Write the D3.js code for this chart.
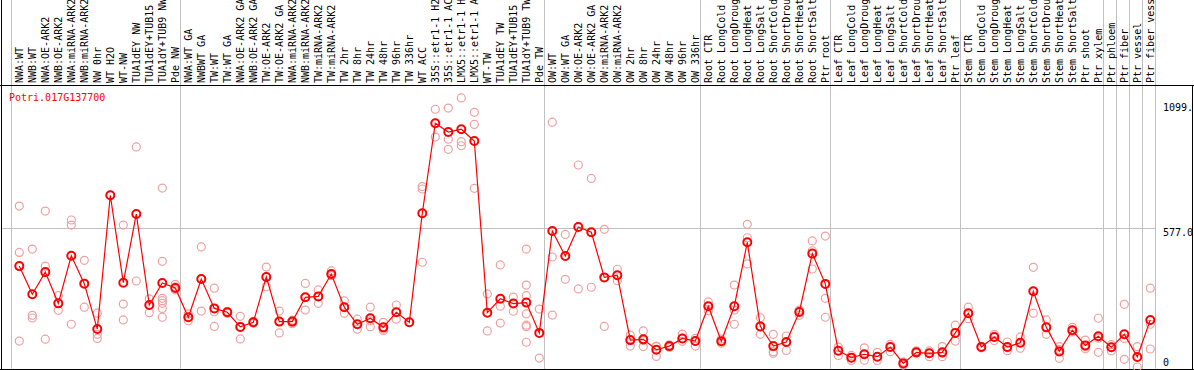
<!DOCTYPE html>
<html lang="en">
<head>
<meta charset="UTF-8">
<title>Potri.017G137700 expression</title>
<style>
  body { margin: 0; background: #fff; }
  text { font-family: "DejaVu Sans Mono", monospace; font-size: 10px; }
</style>
</head>
<body>
<div id="viz-wrapper"></div>
<script src="https://cdn.jsdelivr.net/npm/d3@7/dist/d3.min.js"></script>
<script type="text/javascript">
// sample names, left to right
var categories = [
  "NWA:WT", "NWB:WT", "NWA:OE-ARK2", "NWB:OE-ARK2", "NWA:miRNA-ARK2", "NWB:miRNA-ARK2",
  "NW 0hr", "WT H2O", "WT-NW", "TUA1dEY NW", "TUA1dEY+TUB15", "TUA1dY+TUB9 NW", "Pde NW",
  "NWA:WT GA", "NWBWT GA", "TW:WT", "TW:WT GA", "NWA:OE-ARK2 GA", "NWB:OE-ARK2 GA",
  "TW:OE-ARK2", "TW:OE-ARK2 GA", "NWA:miRNA-ARK2", "NWB:miRNA-ARK2", "TW:miRNA-ARK2",
  "TW:miRNA-ARK2", "TW 2hr", "TW 8hr", "TW 24hr", "TW 48hr", "TW 96hr", "TW 336hr",
  "WT ACC", "35S::etr1-1 H2O", "35S::etr1-1 ACC", "LMX5::etr1-1 H2O", "LMX5::etr1-1 ACC",
  "WT-TW", "TUA1dEY TW", "TUA1dEY+TUB15", "TUA1dY+TUB9 TW", "Pde TW",
  "OW:WT", "OW:WT GA", "OW:OE-ARK2", "OW:OE-ARK2 GA", "OW:miRNA-ARK2", "OW:miRNA-ARK2",
  "OW 2hr", "OW 8hr", "OW 24hr", "OW 48hr", "OW 96hr", "OW 336hr",
  "Root CTR", "Root LongCold", "Root LongDrought", "Root LongHeat", "Root LongSalt",
  "Root ShortCold", "Root ShortDrought", "Root ShortHeat", "Root ShortSalt", "Ptr root",
  "Leaf CTR", "Leaf LongCold", "Leaf LongDrought", "Leaf LongHeat", "Leaf LongSalt",
  "Leaf ShortCold", "Leaf ShortDrought", "Leaf ShortHeat", "Leaf ShortSalt", "Ptr leaf",
  "Stem CTR", "Stem LongCold", "Stem LongDrought", "Stem LongHeat", "Stem LongSalt",
  "Stem ShortCold", "Stem ShortDrought", "Stem ShortHeat", "Stem ShortSalt", "Ptr shoot", "Ptr xylem",
  "Ptr phloem", "Ptr fiber", "Ptr vessel", "Ptr fiber vessel"
];

// index where each experiment block starts (gray separators)
var groupBreaks = [0, 13, 41, 53, 63, 73, 84, 85, 86, 87, 88];

// mean expression per sample (the red line)
var means = [
  420, 303, 395, 265, 463, 347, 158, 715, 351, 637, 258, 350, 329,
  207, 366, 244, 228, 167, 186, 375, 189, 189, 290, 294, 387, 249, 178, 203, 165, 228, 186,
  640, 1015, 978, 990, 941, 226, 284, 264, 268, 142,
  566, 462, 583, 561, 373, 382, 112, 115, 72, 87, 119, 108,
  253, 107, 253, 519, 169, 87, 104, 229, 472, 346,
  68, 39, 53, 43, 83, 15, 61, 57, 61, 142,
  224, 83, 125, 83, 101, 315, 165, 65, 153, 90, 128,
  82, 136, 42, 196
];

// individual replicates per sample (pink circles)
var replicates = [
  [670, 477, 108], [491, 215, 204], [649, 420, 116], [297, 265, 236], [612, 591, 178],
  [444, 347, 249], [224, 136, 119], [715], [591, 262, 196], [916, 358], [284, 258, 226],
  [745, 440, 286, 276, 265, 244, 207], [344, 334, 321],
  [221, 207, 193], [500, 366, 233], [328, 230, 169], [232, 228, 224], [211, 167, 117],
  [190, 186, 182], [416, 375, 334], [233, 189, 142], [195, 186, 180], [348, 290, 237],
  [321, 294, 265], [400, 387, 380], [275, 249, 224], [199, 178, 157], [249, 192, 168],
  [186, 158, 151], [258, 228, 199], [186], [751, 741, 436], [1073, 1015, 957],
  [1078, 948, 906], [1120, 938, 921], [1060, 1010, 744], [304, 150], [425, 253, 183],
  [291, 264, 232], [491, 341, 297, 221, 174, 168, 103], [241, 37],
  [1019, 458, 216], [552, 462, 365], [841, 583, 325], [785, 561, 332], [573, 373, 169],
  [407, 382, 359], [133, 112, 87], [150, 110, 85], [87, 85, 44], [92, 87, 82],
  [137, 119, 107], [119, 108, 87],
  [271, 253, 234], [116, 107, 99], [341, 237, 178], [594, 538, 429], [205, 169, 136],
  [136, 64, 57], [129, 104, 69], [237, 229, 215], [525, 484, 408], [545, 286, 207],
  [83, 68, 48], [48, 39, 27], [80, 53, 28], [61, 43, 27], [94, 83, 64], [21, 15, 8],
  [67, 61, 57], [67, 57, 43], [85, 57, 43], [174, 142, 108],
  [249, 224, 201], [86, 83, 80], [136, 125, 110], [104, 80, 68], [125, 101, 78],
  [415, 315, 224], [196, 165, 136], [85, 72, 36], [165, 153, 146], [112, 84, 76],
  [203, 120, 61],
  [93, 82, 67], [261, 119, 32], [85, 0], [328, 178, 75]
];

var yTicks = [1099, 577, 0];
var yTickLabels = ["1099.", "577.0", "0"];
var geneName = "Potri.017G137700";

var width = 1194, height = 370;

var svg = d3.select("#viz-wrapper").append("svg")
  .attr("width", width)
  .attr("height", height);

var x = d3.scaleBand()
  .domain(d3.range(categories.length))
  .range([11, 1155]);

// points sit a bit right of the band's middle
function cx(i) { return x(i) + 8.3; }
function edge(k) { return k < categories.length ? x(k) : x.range()[1]; }

var y = d3.scaleLinear().domain([0, 1099]).range([367, 103]);

// gray separators between blocks
svg.selectAll("line.sep")
  .data(groupBreaks)
  .enter().append("line")
  .attr("class", "sep")
  .attr("x1", function(k) { return Math.round(edge(k)) + 0.5; })
  .attr("x2", function(k) { return Math.round(edge(k)) + 0.5; })
  .attr("y1", 0).attr("y2", height)
  .style("stroke", "#c0c0c0");

// horizontal gridline at the mid tick
svg.append("line")
  .attr("x1", 1).attr("x2", edge(categories.length))
  .attr("y1", Math.round(y(577)) + 0.5).attr("y2", Math.round(y(577)) + 0.5)
  .style("stroke", "#c0c0c0");

// frame
svg.append("line").attr("x1", 1.5).attr("x2", 1.5).attr("y1", 0).attr("y2", height).style("stroke", "#000");
svg.append("line").attr("x1", 0).attr("x2", width).attr("y1", 85.5).attr("y2", 85.5).style("stroke", "#000");
svg.append("line").attr("x1", 0).attr("x2", width).attr("y1", 369.5).attr("y2", 369.5).style("stroke", "#000");
svg.append("line").attr("x1", 1192.5).attr("x2", 1192.5).attr("y1", 85).attr("y2", height).style("stroke", "#000");

// sample labels, rotated
svg.selectAll("text.cat")
  .data(categories)
  .enter().append("text")
  .attr("class", "cat")
  .attr("transform", function(d, i) { return "translate(" + (cx(i) + 3.8) + ",83) rotate(-90)"; })
  .style("fill", "#000")
  .text(function(d) { return d; });

// right axis labels
svg.selectAll("text.ytick")
  .data(yTicks)
  .enter().append("text")
  .attr("class", "ytick")
  .attr("x", 1163)
  .attr("y", function(d) { return Math.min(y(d) + 8, 366); })
  .style("fill", "#000")
  .text(function(d, i) { return yTickLabels[i]; });

svg.append("text")
  .attr("x", 9).attr("y", 101)
  .style("fill", "#ff0000")
  .text(geneName);

// replicate dots
var reps = [];
replicates.forEach(function(r, i) {
  r.forEach(function(v) { reps.push({ i: i, v: v }); });
});
svg.selectAll("circle.rep")
  .data(reps)
  .enter().append("circle")
  .attr("class", "rep")
  .attr("cx", function(d) { return cx(d.i); })
  .attr("cy", function(d) { return y(d.v); })
  .attr("r", 4)
  .style("fill", "none")
  .style("stroke", "#f0a0a0")
  .style("stroke-width", 1.2);

// mean line
var line = d3.line()
  .x(function(d, i) { return cx(i); })
  .y(function(d) { return y(d); });

svg.append("path")
  .datum(means)
  .attr("d", line)
  .style("fill", "none")
  .style("stroke", "#ff0000")
  .style("stroke-width", 1.2);

svg.selectAll("circle.mean")
  .data(means)
  .enter().append("circle")
  .attr("class", "mean")
  .attr("cx", function(d, i) { return cx(i); })
  .attr("cy", function(d) { return y(d); })
  .attr("r", 4)
  .style("fill", "none")
  .style("stroke", "#ff0000")
  .style("stroke-width", 2);
</script>
</body>
</html>
